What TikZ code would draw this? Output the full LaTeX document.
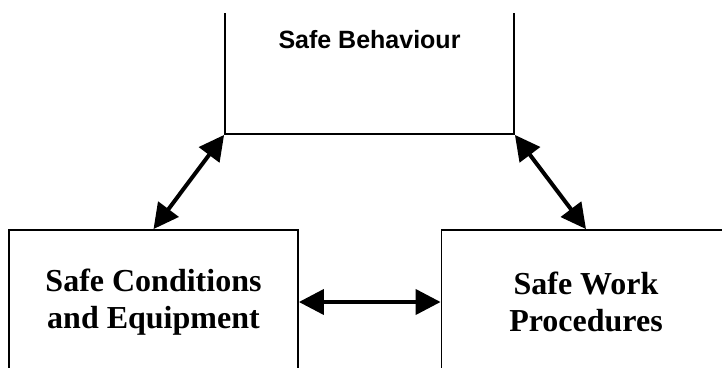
\documentclass[tikz,border=0pt]{standalone}
\usepackage{fontspec}
\setmainfont{Liberation Serif}
\setsansfont{Liberation Sans}
\usetikzlibrary{arrows.meta}

\tikzset{
	bloc/.style={draw, line width=1.8pt, inner sep=0pt, minimum width=289pt, align=center},
	lien/.style={line width=4pt, {Triangle[length=25pt,width=25pt]}-{Triangle[length=25pt,width=25pt]}},
	titre/.style={font=\sffamily\bfseries\fontsize{25}{30}\selectfont},
	texte/.style={font=\rmfamily\bfseries\fontsize{32}{37}\selectfont}
}

\begin{document}
\begin{tikzpicture}[x=1pt, y=-1pt]
	\useasboundingbox (0,0) rectangle (722,367);
	\clip (0,13) rectangle (722,367);

% BLOCS
	\node[bloc, titre, minimum height=188pt] (comport) at (369.5,40) {Safe Behaviour};
	\node[bloc, texte, minimum height=144pt] (cond) at (153.5,302) {Safe Conditions\\and Equipment};
	\node[bloc, texte, minimum height=144pt] (proc) at (586,302) {Safe Work\\Procedures};

% FLECHES
	\draw[lien] (comport.south west) -- (cond.north);
	\draw[lien] (comport.south east) -- (proc.north);
	\draw[lien] (cond.east) -- (proc.west);

\end{tikzpicture}
\end{document}
